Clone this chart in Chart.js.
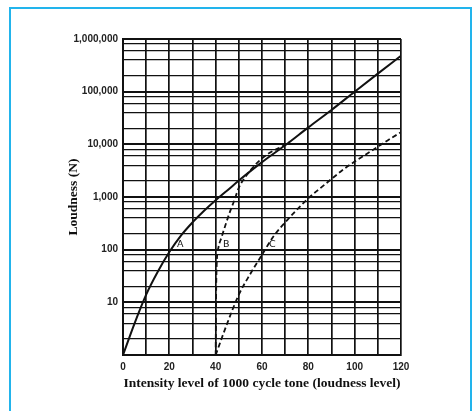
<!DOCTYPE html>
<html>
<head>
<meta charset="utf-8">
<title>Loudness vs loudness level</title>
<script src="https://cdn.jsdelivr.net/npm/chart.js@4.4.0/dist/chart.umd.min.js"></script>
<style>
html, body { margin: 0; padding: 0; background: #fff; overflow: hidden; }
#frame { position: absolute; left: 9px; top: 7px; width: 459px; height: 420px; border: 2px solid #22b4ec; border-bottom: none; }
#wrap { position: absolute; left: 0; top: 0; width: 474px; height: 411px; }
</style>
</head>
<body>
<div id="frame"></div>
<div id="wrap"><canvas id="loudness" width="474" height="411"></canvas></div>
<script>
// curve A (solid)
var phonA = [0, 5, 10, 15, 20, 25, 30, 35, 40, 45, 50, 55, 60, 70, 80, 90, 100, 110, 120];
var sonesA = [1, 4, 14, 38, 90, 185, 330, 550, 870, 1330, 2050, 3100, 4600, 9600, 21000, 45000, 100000, 220000, 480000];

// curve B (dashed), joins A near 70
var phonB = [40, 40.2, 40.5, 41.2, 42.5, 44, 46, 48, 50, 52.5, 55, 58, 62, 65, 68.5, 72];
var sonesB = [1, 15, 60, 110, 170, 273, 500, 850, 1500, 2300, 3200, 4500, 6300, 7600, 9000, 11200];

// curve C (dashed)
var phonC = [40, 45, 50, 55, 60, 65, 70, 75, 80, 85, 90, 95, 100, 105, 110, 115, 120];
var sonesC = [1, 4, 14, 35, 80, 180, 330, 570, 950, 1450, 2200, 3300, 4700, 6500, 9000, 12500, 17000];

var yMajor = [1, 10, 100, 1000, 10000, 100000, 1000000];
var yLabels = ['', '10', '100', '1,000', '10,000', '100,000', '1,000,000'];
var yMinor = [2, 4, 6, 8];
var curveNames = ['A', 'B', 'C'];
var namePhon = [23.3, 43.2, 63.0];
var nameSones = [124, 124, 124];

function toPoints(xs, ys) {
	var pts = [];
	for (var i = 0; i < xs.length; i++) {
		pts.push({x: xs[i], y: ys[i]});
	}
	return pts;
}

function isMajor(v) {
	return yMajor.indexOf(v) !== -1;
}

// letters A, B, C next to their curves
var curveLetters = {
	id: 'curveLetters',
	afterDatasetsDraw: function(chart) {
		var ctx = chart.ctx;
		var xs = chart.scales.x, ys = chart.scales.y;
		ctx.save();
		ctx.fillStyle = '#111';
		ctx.font = '9.5px "DejaVu Sans"';
		ctx.textAlign = 'left';
		ctx.textBaseline = 'middle';
		for (var i = 0; i < curveNames.length; i++) {
			ctx.fillText(curveNames[i], xs.getPixelForValue(namePhon[i]), ys.getPixelForValue(nameSones[i]));
		}
		ctx.restore();
	}
};

var ctx = document.getElementById('loudness');

var chart = new Chart(ctx, {
	type: 'line',
	data: {
		datasets: [
			{
				label: 'A',
				data: toPoints(phonA, sonesA),
				borderColor: '#111',
				borderWidth: 2,
				pointRadius: 0,
				cubicInterpolationMode: 'monotone'
			},
			{
				label: 'B',
				data: toPoints(phonB, sonesB),
				borderColor: '#111',
				borderWidth: 1.8,
				borderDash: [5, 3],
				pointRadius: 0,
				cubicInterpolationMode: 'monotone'
			},
			{
				label: 'C',
				data: toPoints(phonC, sonesC),
				borderColor: '#111',
				borderWidth: 1.8,
				borderDash: [5, 3],
				pointRadius: 0,
				cubicInterpolationMode: 'monotone'
			}
		]
	},
	options: {
		responsive: false,
		animation: false,
		layout: { padding: { left: 58, top: 39, right: 73, bottom: 18 } },
		plugins: {
			legend: { display: false },
			tooltip: { enabled: false }
		},
		scales: {
			x: {
				type: 'linear',
				min: 0,
				max: 120,
				afterFit: function(scale) { scale.height = 38; },
				border: { display: true, color: '#111', width: 2 },
				grid: { color: '#111', lineWidth: 1.7, drawTicks: false },
				ticks: {
					stepSize: 10,
					autoSkip: false,
					maxRotation: 0,
					padding: 6,
					color: '#222',
					font: { family: 'Liberation Sans', size: 10, weight: 'bold' },
					callback: function(v) { return v % 20 === 0 ? String(v) : ''; }
				},
				title: {
					display: true,
					text: 'Intensity level of 1000 cycle tone (loudness level)',
					color: '#111',
					font: { family: 'Liberation Serif', size: 13.5, weight: 'bold' },
					padding: { top: 0, bottom: 1 }
				}
			},
			y: {
				type: 'logarithmic',
				min: 1,
				max: 1000000,
				afterFit: function(scale) { scale.width = 65; },
				afterBuildTicks: function(scale) {
					var t = [];
					for (var e = 0; e < 6; e++) {
						var base = Math.pow(10, e);
						t.push({ value: base });
						for (var m = 0; m < yMinor.length; m++) {
							t.push({ value: yMinor[m] * base });
						}
					}
					t.push({ value: 1000000 });
					scale.ticks = t;
				},
				border: { display: true, color: '#111', width: 2 },
				grid: {
					color: '#111',
					drawTicks: false,
					lineWidth: function(c) {
						return c.tick && isMajor(c.tick.value) ? 2 : 1.3;
					}
				},
				ticks: {
					autoSkip: false,
					padding: 5,
					color: '#222',
					font: { family: 'Liberation Sans', size: 10, weight: 'bold' },
					callback: function(v) {
						var k = yMajor.indexOf(v);
						return k === -1 ? '' : yLabels[k];
					}
				},
				title: {
					display: true,
					text: 'Loudness (N)',
					color: '#111',
					font: { family: 'Liberation Serif', size: 13.5, weight: 'bold' },
					padding: { top: 7, bottom: 0 }
				}
			}
		}
	},
	plugins: [curveLetters]
});
</script>
</body>
</html>
